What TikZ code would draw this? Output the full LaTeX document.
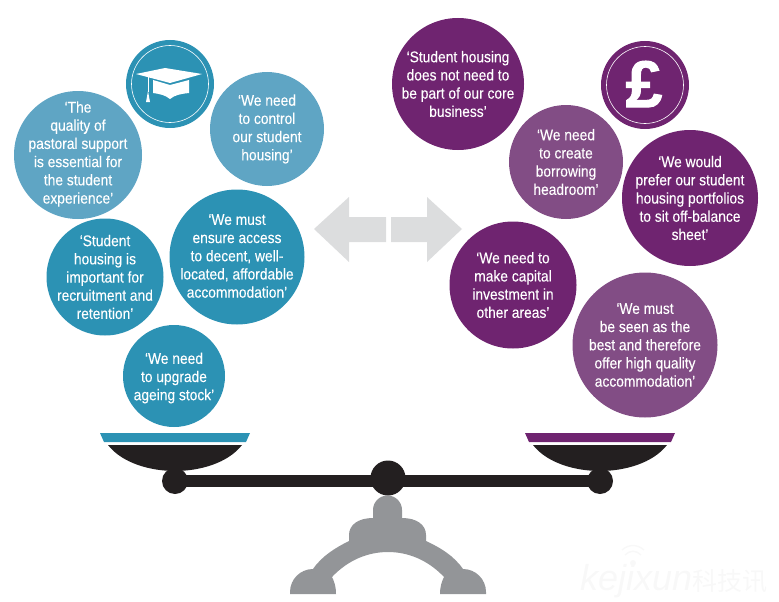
\documentclass[tikz,border=0pt]{standalone}
\usepackage{fontspec}
\setmainfont{Liberation Sans}[FakeStretch=0.89,FakeBold=0.15]
\newfontfamily\plainsans{Liberation Sans}
\newfontfamily\heavysans{Liberation Sans}[FakeBold=1.5]
\newfontfamily\cjkfont{Noto Sans CJK SC}
\definecolor{bluelight}{HTML}{5FA5C4}
\definecolor{bluedark}{HTML}{2C92B4}
\definecolor{purplelight}{HTML}{824D85}
\definecolor{purpledark}{HTML}{6F2470}
\definecolor{inkblack}{HTML}{231F20}
\definecolor{standgrey}{HTML}{939598}
\definecolor{arrowgrey}{HTML}{DCDDDE}
\definecolor{markgrey}{HTML}{F8F8F8}
\tikzset{
  disc/.style={circle,inner sep=0pt},
  bubbletext/.style={inner sep=0pt,text=white,align=center,font=\fontsize{15.5}{18.2}\selectfont},
  ring/.style={draw=white,line width=0.6pt},
  beam/.style={fill=inkblack},
  greyarrow/.style={fill=arrowgrey},
}
% [text shift], colour, name, position, diameter, text
\newcommand\bubblenode[6][0]{%
  \node[disc,fill=#2,minimum size=#5pt] (#3) at (#4) {};
  \node[bubbletext,yshift=#1pt] (#3-text) at (#3.center) {#6};
}
\begin{document}
\begin{tikzpicture}[x=1pt,y=-1pt]
\useasboundingbox (0,0) rectangle (779,602);
% watermark
\node[text=markgrey,anchor=base west,inner sep=0pt,font={\plainsans\itshape\fontsize{36}{36}\selectfont}] (wm) at (580,590) {kejixun{\cjkfont\fontsize{25}{25}\selectfont 科技讯}};
\fill[markgrey] (633,563) circle (3);
\draw[markgrey,line width=1.5pt] (625,555) .. controls (630,550) and (636,550) .. (641,555);
\draw[markgrey,line width=1.5pt] (622,550) .. controls (629,544) and (637,544) .. (644,550);
% blue bubbles
\bubblenode[1]{bluelight}{pastoral}{78,155}{128}{‘The\\quality of\\pastoral support\\is essential for\\the student\\experience’}
\bubblenode{bluelight}{control}{267,129}{114}{‘We need\\to control\\our student\\housing’}
\node[disc,fill=bluedark,minimum size=88pt] (capcoin) at (170,84) {};
\draw[ring] (capcoin.center) circle (38.5);
\bubblenode{bluedark}{recruit}{105,277}{117}{‘Student\\housing is\\important for\\recruitment and\\retention’}
\bubblenode[1]{bluedark}{ensure}{237,257}{135}{‘We must\\ensure access\\to decent, well-\\located, affordable\\accommodation’}
\bubblenode[-2]{bluedark}{upgrade}{174,376}{102}{‘We need\\to upgrade\\ageing stock’}
% mortar board
\fill[white] (136,74) -- (165,68) -- (202,74) -- (170,83) -- cycle;
\fill[white] (153,80) -- (170,85) -- (189,80) -- (189,93) .. controls (180,94) and (175,95) .. (170,99) .. controls (165,95) and (160,94) .. (153,93) -- cycle;
\draw[white,line width=0.8pt] (148,76) -- (148,92);
\fill[white] (148,91) -- (150,102) -- (146,102) -- cycle;
% purple bubbles
\bubblenode{purpledark}{core}{458,84}{132}{‘Student housing\\does not need to\\be part of our core\\business’}
\node[disc,fill=purpledark,minimum size=88pt] (poundcoin) at (645,85) {};
\draw[ring] (poundcoin.center) circle (38.5);
\node[text=white,inner sep=0pt,font={\heavysans\bfseries\fontsize{66}{66}\selectfont}] (pound) at (644,84) {£};
\bubblenode{purplelight}{borrow}{566,162}{114}{‘We need\\to create\\borrowing\\headroom’}
\bubblenode{purpledark}{prefer}{690,198}{136}{‘We would\\prefer our student\\housing portfolios\\to sit off-balance\\sheet’}
\bubblenode{purpledark}{capital}{513,285}{127}{‘We need to\\make capital\\investment in\\other areas’}
\bubblenode{purplelight}{best}{645,345}{145}{‘We must\\be seen as the\\best and therefore\\offer high quality\\accommodation’}
% arrows
\fill[greyarrow] (314,229) -- (349,197) -- (349,217) -- (386,217) -- (386,242) -- (349,242) -- (349,262) -- cycle;
\fill[greyarrow] (462,229) -- (427,197) -- (427,217) -- (391,217) -- (391,242) -- (427,242) -- (427,262) -- cycle;
% stand
\fill[standgrey] (290,594) -- (290,592) arc (180:270:23) .. controls (322,556) and (335,548) .. (349,541) -- (349,535) .. controls (349,525) and (358,518) .. (373,518) -- (373,510) arc (180:360:14.5) -- (402,518) .. controls (417,518) and (426,525) .. (426,535) -- (426,541) .. controls (441,548) and (454,556) .. (463,569) arc (270:360:23) -- (486,594) -- (440,594) .. controls (440,586) and (442,581) .. (444,577) .. controls (428,560) and (408,552) .. (388,552) .. controls (368,552) and (348,560) .. (332,577) .. controls (334,581) and (336,586) .. (336,594) -- cycle;
% pans
\fill[bluedark] (100,433) -- (250,433) -- (246,442) -- (104,442) -- cycle;
\fill[purpledark] (525,433) -- (675,433) -- (671,442) -- (529,442) -- cycle;
\fill[inkblack] (108,445) -- (242,445) .. controls (228,463) and (200,471) .. (175,471) .. controls (150,471) and (122,463) .. (108,445) -- cycle;
\fill[inkblack] (533,445) -- (667,445) .. controls (653,463) and (625,471) .. (600,471) .. controls (575,471) and (547,463) .. (533,445) -- cycle;
% beam
\coordinate (beamL) at (175,481);
\coordinate (beamR) at (600,481);
\fill[beam] (175,474.5) rectangle (600,487);
\fill[beam] (beamL) circle (13);
\fill[beam] (beamR) circle (13);
\fill[beam] (388,478) circle (17.5);
\end{tikzpicture}
\end{document}
